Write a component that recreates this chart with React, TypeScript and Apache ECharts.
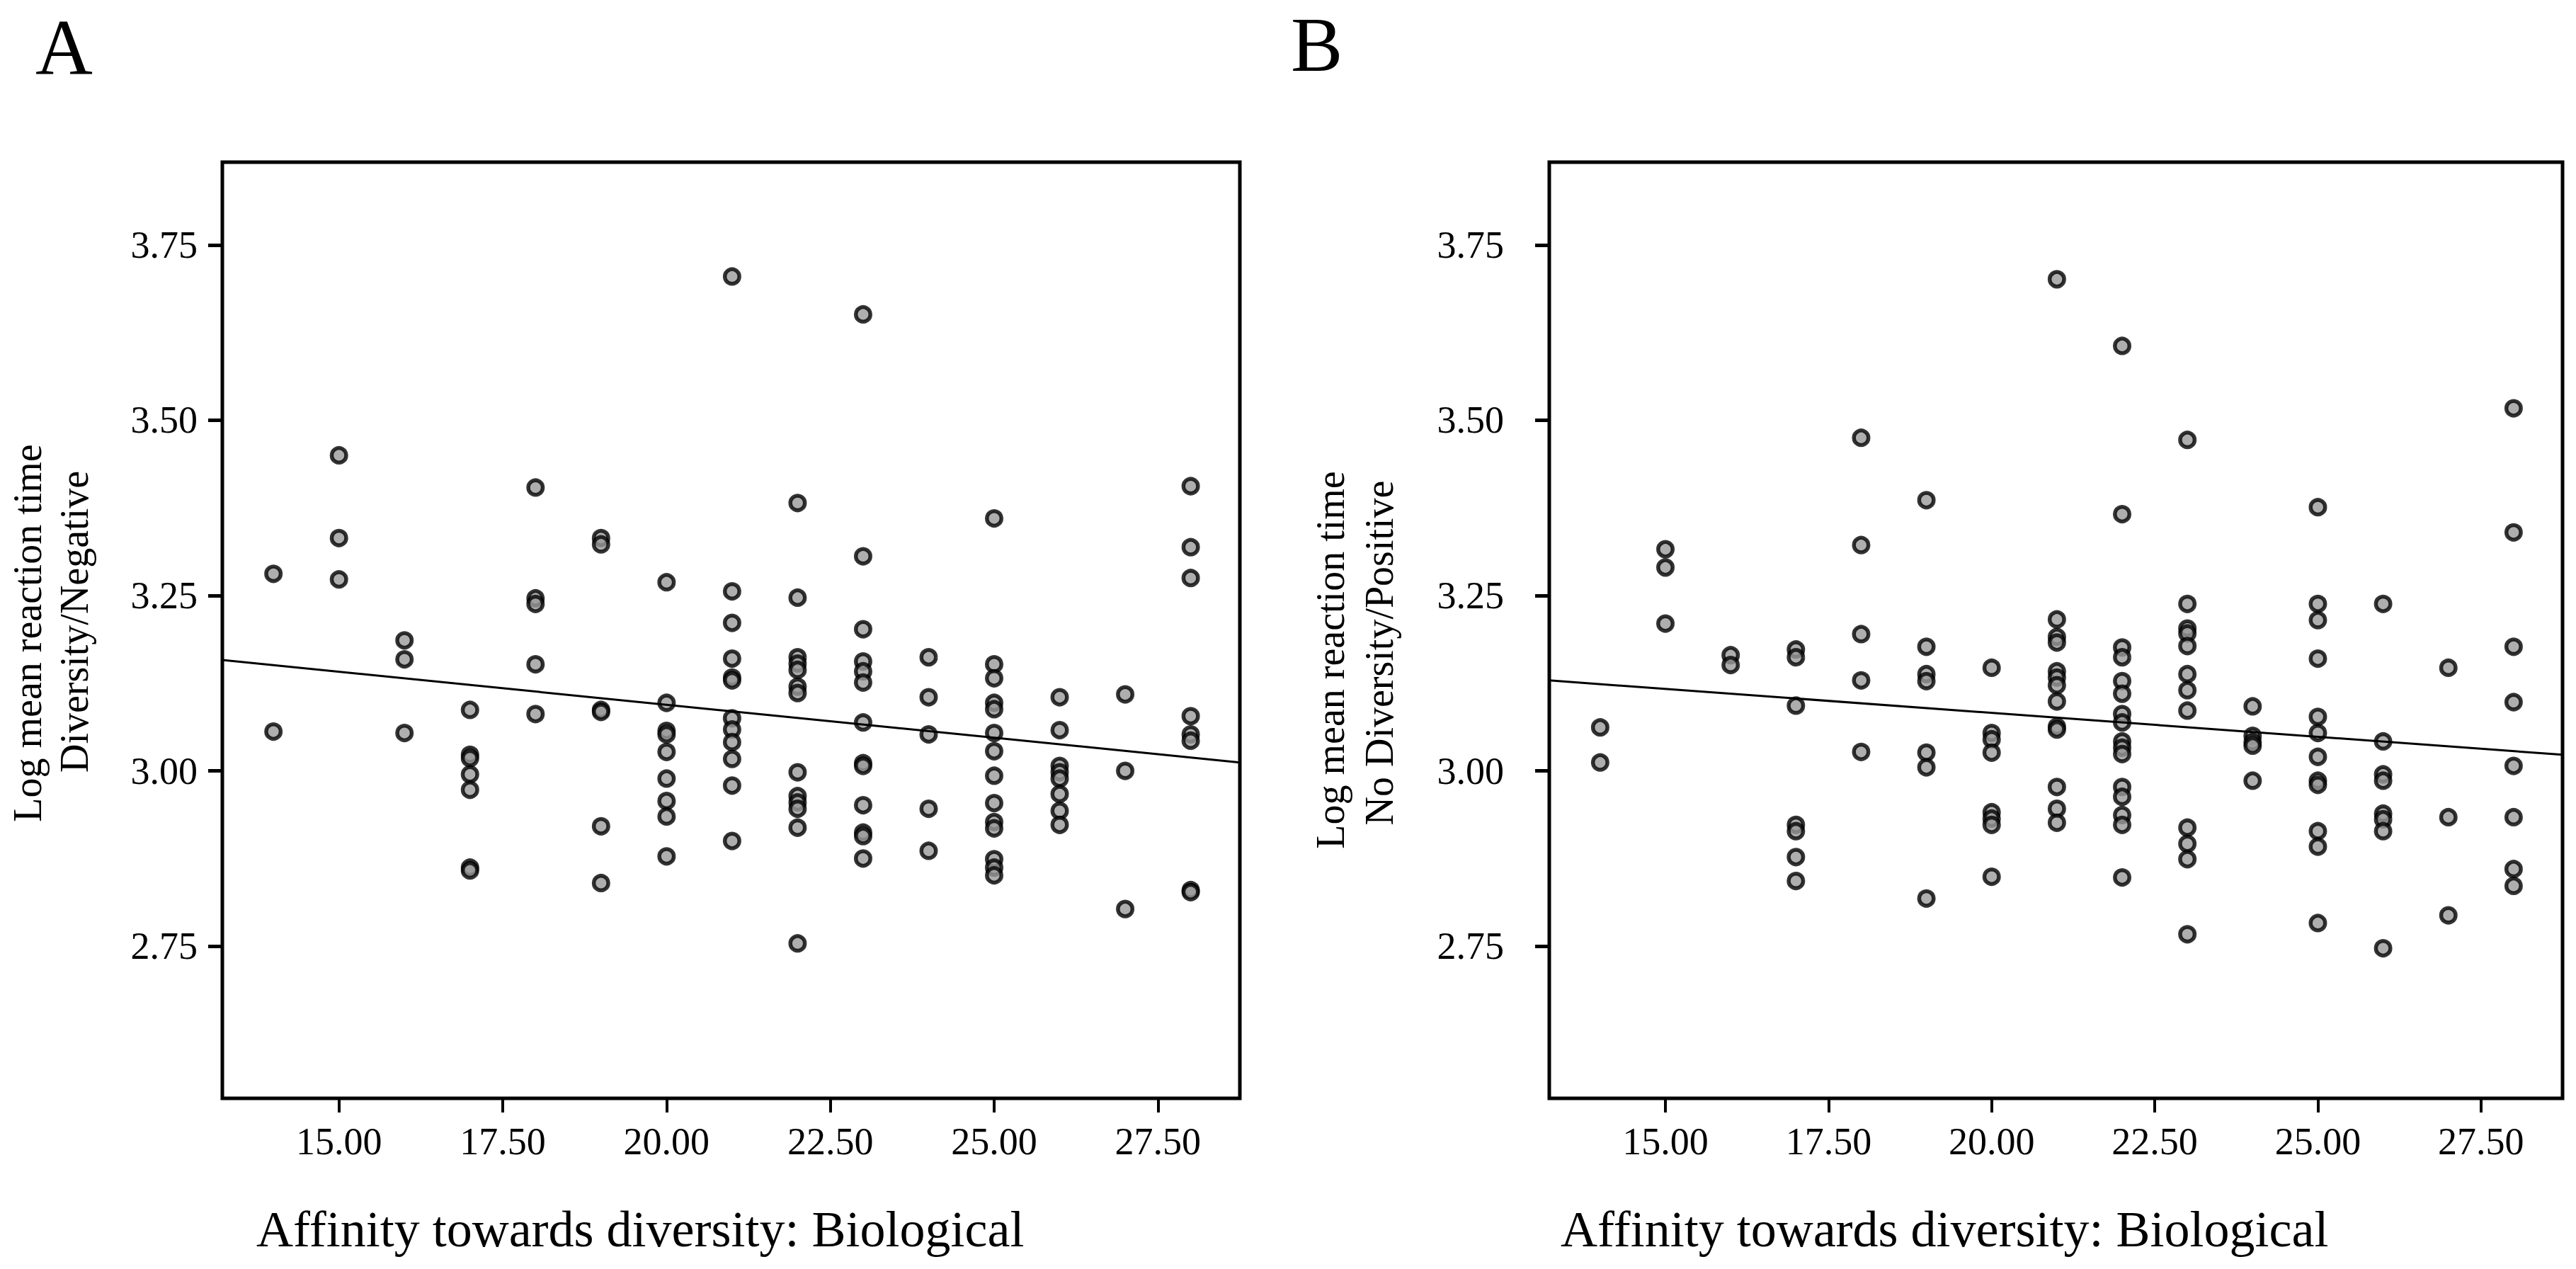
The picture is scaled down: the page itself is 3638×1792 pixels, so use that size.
import React, { useEffect, useRef } from "react";
import * as echarts from "echarts";

// Affinity towards diversity: Biological (score levels)
const xLevels = [14, 15, 16, 17, 18, 19, 20, 21, 22, 23, 24, 25, 26, 27, 28];

// Panel A: Log mean reaction time, Diversity/Negative — values per score level
const rtNegative: number[][] = [
  [3.281, 3.056],
  [3.45, 3.332, 3.273],
  [3.186, 3.159, 3.054],
  [3.087, 3.023, 3.018, 2.995, 2.973, 2.862, 2.858],
  [3.404, 3.246, 3.238, 3.152, 3.081],
  [3.332, 3.323, 3.087, 3.084, 2.921, 2.84],
  [3.269, 3.097, 3.057, 3.052, 3.027, 2.989, 2.957, 2.935, 2.878],
  [3.705, 3.256, 3.211, 3.16, 3.133, 3.129, 3.075, 3.059, 3.041, 3.017, 2.979, 2.9],
  [3.382, 3.247, 3.162, 3.153, 3.144, 3.12, 3.111, 2.998, 2.964, 2.955, 2.946, 2.919, 2.754],
  [3.651, 3.306, 3.202, 3.156, 3.142, 3.126, 3.069, 3.011, 3.007, 2.951, 2.912, 2.907, 2.875],
  [3.162, 3.105, 3.052, 2.946, 2.886],
  [3.36, 3.152, 3.132, 3.097, 3.088, 3.054, 3.028, 2.993, 2.954, 2.927, 2.918, 2.874, 2.862, 2.851],
  [3.105, 3.058, 3.007, 2.998, 2.989, 2.967, 2.943, 2.923],
  [3.109, 3.0, 2.803],
  [3.406, 3.319, 3.275, 3.078, 3.052, 3.043, 2.83, 2.827],
];

// Panel B: Log mean reaction time, No Diversity/Positive — values per score level
const rtPositive: number[][] = [
  [3.062, 3.012],
  [3.316, 3.29, 3.21],
  [3.165, 3.151],
  [3.173, 3.162, 3.093, 2.923, 2.914, 2.877, 2.843],
  [3.475, 3.322, 3.195, 3.129, 3.027],
  [3.386, 3.177, 3.138, 3.128, 3.026, 3.005, 2.818],
  [3.147, 3.054, 3.045, 3.026, 2.941, 2.932, 2.923, 2.849],
  [3.701, 3.216, 3.191, 3.183, 3.142, 3.133, 3.122, 3.099, 3.063, 3.059, 2.977, 2.946, 2.926],
  [3.606, 3.366, 3.176, 3.162, 3.128, 3.11, 3.081, 3.069, 3.042, 3.033, 3.024, 2.977, 2.963, 2.937, 2.923, 2.848],
  [3.472, 3.238, 3.203, 3.196, 3.178, 3.138, 3.115, 3.086, 2.919, 2.896, 2.874, 2.767],
  [3.092, 3.05, 3.041, 3.036, 2.986],
  [3.376, 3.238, 3.215, 3.16, 3.077, 3.054, 3.02, 2.986, 2.98, 2.914, 2.892, 2.783],
  [3.238, 3.042, 2.995, 2.986, 2.939, 2.931, 2.914, 2.747],
  [3.147, 2.934, 2.794],
  [3.517, 3.34, 3.177, 3.098, 3.007, 2.934, 2.86, 2.836],
];

// Fitted regression lines (endpoints at the axis limits)
const fitNegative = [
  [13.22, 3.158],
  [28.75, 3.012],
];
const fitPositive = [
  [13.22, 3.129],
  [28.75, 3.023],
];

const xTicks = [15, 17.5, 20, 22.5, 25, 27.5];
const yTicks = [2.75, 3.0, 3.25, 3.5, 3.75];

const X_MIN = 13.22;
const X_MAX = 28.75;
const Y_MIN = 2.533;
const Y_MAX = 3.868;

const FONT = '"Liberation Serif", "Times New Roman", serif';

function toPoints(groups: number[][]): number[][] {
  const pts: number[][] = [];
  groups.forEach((vals, i) => vals.forEach((v) => pts.push([xLevels[i], v])));
  return pts;
}

function xAxisFor(gridIndex: number) {
  return {
    type: "value",
    gridIndex,
    min: X_MIN,
    max: X_MAX,
    axisLine: { show: false },
    splitLine: { show: false },
    axisTick: {
      show: true,
      inside: false,
      length: 20,
      customValues: xTicks,
      lineStyle: { color: "#000", width: 4 },
    },
    axisLabel: {
      show: true,
      customValues: xTicks,
      margin: 34,
      color: "#000",
      fontSize: 54,
      fontFamily: FONT,
      formatter: (v: number) => v.toFixed(2),
    },
  };
}

function yAxisFor(gridIndex: number, margin: number) {
  return {
    type: "value",
    gridIndex,
    min: Y_MIN,
    max: Y_MAX,
    axisLine: { show: false },
    splitLine: { show: false },
    axisTick: {
      show: true,
      inside: false,
      length: 20,
      customValues: yTicks,
      lineStyle: { color: "#000", width: 5 },
    },
    axisLabel: {
      show: true,
      customValues: yTicks,
      margin,
      color: "#000",
      fontSize: 54,
      fontFamily: FONT,
      formatter: (v: number) => v.toFixed(2),
    },
  };
}

function textEl(
  text: string,
  x: number,
  y: number,
  size: number,
  align: string,
  rotation = 0,
  lineHeight?: number
) {
  return {
    type: "text",
    x,
    y,
    rotation,
    silent: true,
    style: {
      text,
      fontSize: size,
      fontFamily: FONT,
      fill: "#000",
      textAlign: align,
      textVerticalAlign: "middle",
      align,
      verticalAlign: "middle",
      lineHeight: lineHeight ?? size,
    },
  };
}

export default function App() {
  const ref = useRef<HTMLDivElement>(null);

  useEffect(() => {
    if (!ref.current) return;
    const chart = echarts.init(ref.current, undefined, { renderer: "svg" });
    const scatterStyle = {
      color: "#9a9a9a",
      borderColor: "#000",
      borderWidth: 5.5,
    };
    const gridBase = {
      top: 229,
      height: 1322,
      show: true,
      borderColor: "#000",
      borderWidth: 5,
      backgroundColor: "transparent",
    };
    chart.setOption({
      animation: false,
      backgroundColor: "#fff",
      grid: [
        { ...gridBase, left: 314, width: 1437 },
        { ...gridBase, left: 2188, width: 1431 },
      ],
      xAxis: [xAxisFor(0), xAxisFor(1)],
      yAxis: [yAxisFor(0, 35), yAxisFor(1, 64)],
      series: [
        {
          type: "scatter",
          xAxisIndex: 0,
          yAxisIndex: 0,
          symbol: "circle",
          symbolSize: 20.5,
          itemStyle: scatterStyle,
          data: toPoints(rtNegative),
        },
        {
          type: "line",
          xAxisIndex: 0,
          yAxisIndex: 0,
          showSymbol: false,
          symbol: "none",
          lineStyle: { color: "#000", width: 3 },
          data: fitNegative,
          z: 5,
        },
        {
          type: "scatter",
          xAxisIndex: 1,
          yAxisIndex: 1,
          symbol: "circle",
          symbolSize: 20.5,
          itemStyle: scatterStyle,
          data: toPoints(rtPositive),
        },
        {
          type: "line",
          xAxisIndex: 1,
          yAxisIndex: 1,
          showSymbol: false,
          symbol: "none",
          lineStyle: { color: "#000", width: 3 },
          data: fitPositive,
          z: 5,
        },
      ],
      graphic: [
        textEl("A", 50, 67, 112, "left", 0, 84),
        textEl("B", 1823, 63, 110, "left", 0, 84),
        textEl("Affinity towards diversity: Biological", 362, 1736, 72, "left"),
        textEl("Affinity towards diversity: Biological", 2204, 1736, 72, "left"),
        textEl("Log mean reaction time", 39, 894, 56, "center", Math.PI / 2),
        textEl("Diversity/Negative", 105, 878, 56, "center", Math.PI / 2),
        textEl("Log mean reaction time", 1879, 932, 56, "center", Math.PI / 2),
        textEl("No Diversity/Positive", 1948, 922, 56, "center", Math.PI / 2),
      ],
    });
    return () => chart.dispose();
  }, []);

  return (
    <div
      ref={ref}
      style={{
        position: "fixed",
        left: 0,
        top: 0,
        width: 3638,
        height: 1792,
        background: "#fff",
      }}
    />
  );
}
